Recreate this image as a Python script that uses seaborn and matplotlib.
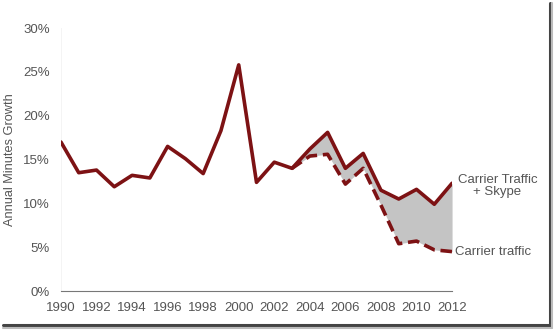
import matplotlib
matplotlib.use("Agg")
import matplotlib.pyplot as plt
import seaborn as sns
import pandas as pd
from matplotlib.lines import Line2D

years = list(range(1990, 2013))
total = [17.0, 13.5, 13.8, 11.9, 13.2, 12.9, 16.5, 15.1, 13.4, 18.3, 25.8, 12.4,
         14.7, 14.0, 16.2, 18.1, 14.0, 15.7, 11.5, 10.5, 11.6, 9.9, 12.3]
carrier_years = list(range(2003, 2013))
carrier = [14.0, 15.4, 15.6, 12.2, 14.0, 9.8, 5.4, 5.7, 4.7, 4.5]

red = "#7d1214"
grey_txt = "#555555"

df_total = pd.DataFrame({"Year": years, "Growth": total})
df_carrier = pd.DataFrame({"Year": carrier_years, "Growth": carrier})

sns.set_style("white")
plt.rcParams["font.family"] = ["Liberation Sans", "DejaVu Sans"]

fig = plt.figure(figsize=(5.54, 3.30), dpi=100)
ax = fig.add_axes([0.110, 0.118, 0.706, 0.797])

# shaded gap between the two series
tot_sub = df_total[df_total["Year"] >= 2003]["Growth"].values
ax.fill_between(carrier_years, carrier, tot_sub, color="#c4c4c4", lw=0, zorder=1)

sns.lineplot(x="Year", y="Growth", data=df_total, color=red, lw=2.6, ax=ax, zorder=3)
sns.lineplot(x="Year", y="Growth", data=df_carrier, color=red, lw=2.6, ax=ax,
             linestyle=(0, (3.2, 1.6)), zorder=3)

ax.set_xlim(1990, 2012)
ax.set_ylim(0, 30)
ax.set_xticks(range(1990, 2013, 2))
ax.set_yticks(range(0, 31, 5))
ax.set_yticklabels([f"{v}%" for v in range(0, 31, 5)])
ax.tick_params(axis="both", colors=grey_txt, labelsize=9.5, length=0)
ax.tick_params(axis="x", pad=8)
ax.tick_params(axis="y", pad=8)
ax.set_xlabel("")
ax.set_ylabel("Annual Minutes Growth", color=grey_txt, fontsize=9.2, labelpad=5)

for s in ["top", "right"]:
    ax.spines[s].set_visible(False)
ax.spines["bottom"].set_color("#777777")
ax.spines["bottom"].set_linewidth(0.8)
ax.spines["left"].set_color("#f2f2f2")
ax.spines["left"].set_linewidth(0.6)
ax.patch.set_alpha(0)

ax.text(2014.55, 10.6, "Carrier Traffic\n+ Skype", ha="center", va="bottom",
        color=grey_txt, fontsize=9.5, linespacing=1.05)
ax.text(2012.15, 4.4, "Carrier traffic", ha="left", va="center",
        color=grey_txt, fontsize=9.5)

# screenshot-style frame shadow on right and bottom
fig.add_artist(Line2D([0.005, 0.993], [0.014, 0.014], transform=fig.transFigure,
                      color="#444444", lw=2.2))
fig.add_artist(Line2D([0.993, 0.993], [0.014, 0.99], transform=fig.transFigure,
                      color="#444444", lw=2.2))
fig.add_artist(Line2D([0.005, 0.996], [0.007, 0.007], transform=fig.transFigure,
                      color="#bbbbbb", lw=1.5))
fig.add_artist(Line2D([0.997, 0.997], [0.007, 0.99], transform=fig.transFigure,
                      color="#bbbbbb", lw=1.5))

fig.savefig("out.png", dpi=100)
